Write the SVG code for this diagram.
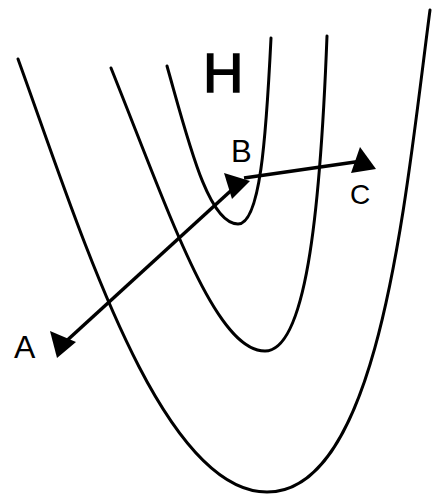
<svg xmlns="http://www.w3.org/2000/svg" width="435" height="494" viewBox="0 0 435 494">
<style>
.c{fill:none;stroke:#000;stroke-width:3;stroke-linecap:round}
.a{fill:none;stroke:#000;stroke-width:3.5}
.h{fill:#000}
text{font-family:"Liberation Sans",Arial,sans-serif;fill:#000}
</style>
<rect width="435" height="494" fill="#fff"/>
<g id="contours">
<path class="c" d="M167,66 C188,140 208,224 238,224 C260,224 266,140 271,38"/>
<path class="c" d="M111,68 C170,215 215,351 265,351 C305,351 320,220 327,36"/>
<path class="c" d="M18,59 C80,230 160,492 267,492 C380,492 405,200 430,10"/>
</g>
<g id="connectors">
<line class="a" x1="236" y1="186" x2="62" y2="345"/>
<line class="a" x1="244" y1="178" x2="362" y2="161"/>
<polygon class="h" points="50,331 76,342 57,358"/>
<polygon class="h" points="224,173 250,181 232,199"/>
<polygon class="h" points="360,147 376,169 351,173"/>
</g>
<g id="H"><text x="203" y="92" font-size="56" stroke="#000" stroke-width="1.5">H</text></g>
<g id="B"><text x="231" y="162" font-size="31">B</text></g>
<g id="C"><text x="350" y="204" font-size="28">C</text></g>
<g id="A"><text x="14" y="358" font-size="32">A</text></g>
</svg>
